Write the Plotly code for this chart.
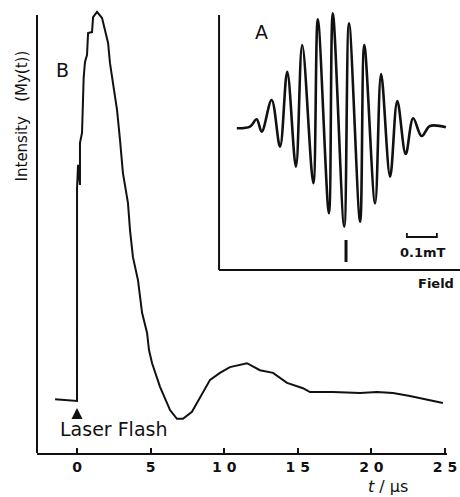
import plotly.graph_objects as go

# ---- Panel B: transient nutation signal (t in microseconds, arbitrary intensity)
t_us = [-1.49, 0.0, 0.0, 0.07, 0.20, 0.20, 0.20, 0.34, 0.41, 0.45, 0.54, 0.68, 0.75,
        1.02, 1.09, 1.36, 1.70, 1.90, 2.11, 2.24, 2.38, 2.72, 2.92, 3.12, 3.46, 3.60,
        3.80, 4.14, 4.42, 4.76, 4.89, 5.10, 5.64, 6.32, 6.79, 7.20, 7.81, 8.36, 9.04,
        9.71, 10.39, 11.55, 12.43, 13.32, 14.27, 15.35, 15.83, 17.39, 19.23, 20.38,
        21.47, 22.62, 23.98, 24.86]
intensity = [0.123, 0.119, 0.605, 0.658, 0.612, 0.669, 0.708, 0.731, 0.806, 0.856,
             0.893, 0.909, 0.959, 0.961, 0.995, 1.007, 0.993, 0.966, 0.936, 0.890,
             0.856, 0.783, 0.715, 0.639, 0.571, 0.509, 0.447, 0.395, 0.320, 0.274,
             0.235, 0.205, 0.151, 0.098, 0.078, 0.078, 0.094, 0.128, 0.167, 0.183,
             0.196, 0.205, 0.189, 0.183, 0.160, 0.148, 0.139, 0.139, 0.137, 0.139,
             0.137, 0.130, 0.121, 0.114]

tick_vals = [0, 5, 10, 15, 20, 25]
tick_text = ["0", "5", "1 0", "1 5", "2 0", "2 5"]

# ---- Panel A: ESR spectrum (field in mT relative to marker, signal arbitrary)
field_mT = [-0.364, -0.320, -0.298, -0.281, -0.248, -0.220, -0.196, -0.167, -0.146,
            -0.109, -0.094, -0.057, -0.044, -0.006, 0.010, 0.047, 0.061, 0.097,
            0.117, 0.147, 0.171, 0.199, 0.224, 0.252, 0.280, 0.333]
signal = [-0.013, 0.003, 0.077, -0.047, 0.27, -0.197, 0.553, -0.397, 0.82, -0.563,
          1.077, -0.863, 1.137, -0.997, 1.037, -0.947, 0.82, -0.763, 0.53, -0.497,
          0.26, -0.27, 0.087, -0.09, 0.01, -0.003]

INK = "#111111"
FONT = "DejaVu Sans"

fig = go.Figure()
fig.add_trace(go.Scatter(x=t_us, y=intensity, mode="lines",
                         line=dict(color=INK, width=2), xaxis="x", yaxis="y",
                         showlegend=False, hoverinfo="skip"))
fig.add_trace(go.Scatter(x=field_mT, y=signal, mode="lines",
                         line=dict(color=INK, width=2.6, shape="spline", smoothing=1.0),
                         xaxis="x2", yaxis="y2", showlegend=False, hoverinfo="skip"))

fig.update_layout(
    width=460, height=497,
    margin=dict(l=37, r=13, t=10, b=44, autoexpand=False),
    paper_bgcolor="white", plot_bgcolor="white",
    font=dict(family=FONT, color=INK),
    xaxis=dict(range=[-2.72, 25.14], showgrid=False, zeroline=False,
               showline=True, linecolor=INK, linewidth=2, automargin=False,
               ticks="inside", ticklen=5, tickwidth=1.5, tickcolor=INK,
               tickvals=tick_vals, ticktext=tick_text,
               tickfont=dict(size=14, family=FONT, color=INK, weight="bold")),
    yaxis=dict(range=[0, 1.0114], showgrid=False, zeroline=False, automargin=False,
               showline=False, showticklabels=False, ticks=""),
    xaxis2=dict(domain=[0.444, 1.0], anchor="y2", range=[-0.4233, 0.3367],
                showgrid=False, zeroline=False, showline=False,
                showticklabels=False, ticks=""),
    yaxis2=dict(domain=[0.4131, 1.0], anchor="x2", range=[-1.43, 1.17],
                showgrid=False, zeroline=False, showline=False,
                showticklabels=False, ticks=""),
)

shapes = [
    # main left axis
    dict(type="line", xref="paper", yref="y", x0=0, x1=0, y0=0, y1=1.0,
         line=dict(color=INK, width=2)),
    # inset axes
    dict(type="line", xref="x2 domain", yref="y2", x0=0, x1=0, y0=-1.43, y1=1.12,
         line=dict(color=INK, width=2)),
    dict(type="line", xref="x2 domain", yref="y2 domain", x0=0, x1=1.06, y0=0, y1=0,
         line=dict(color=INK, width=2)),
    # centre marker
    dict(type="line", xref="x2", yref="y2", x0=0, x1=0, y0=-1.13, y1=-1.35,
         line=dict(color=INK, width=3)),
    # 0.1 mT scale bracket
    dict(type="path", xref="x2", yref="y2",
         path="M 0.203,-1.06 L 0.203,-1.10 L 0.303,-1.10 L 0.303,-1.06",
         line=dict(color=INK, width=1.8)),
]
fig.update_layout(shapes=shapes)

ann = [
    dict(text="B", x=-1.02, y=0.874, xref="x", yref="y", showarrow=False,
         font=dict(size=19, family=FONT, color=INK)),
    dict(text="Laser Flash", x=2.45, y=0.055, xref="x", yref="y", showarrow=False,
         xanchor="center", yanchor="middle",
         font=dict(size=19, family=FONT, color=INK)),
    dict(text="", x=0, y=0.103, xref="x", yref="y", showarrow=True,
         ax=0, ay=11, arrowhead=2, arrowsize=1.0, arrowwidth=2.2, arrowcolor=INK),
    dict(text="Intensity&nbsp;&nbsp;&nbsp;(My(t))", x=-0.0366, y=0.762,
         xref="paper", yref="paper", showarrow=False, textangle=-90,
         xanchor="center", yanchor="middle",
         font=dict(size=15, family=FONT, color=INK)),
    dict(text="<i>t</i> / μs", x=0.856, y=-0.0745, xref="paper", yref="paper",
         showarrow=False, xanchor="center", yanchor="middle",
         font=dict(size=16, family=FONT, color=INK)),
    dict(text="A", x=-0.283, y=0.95, xref="x2", yref="y2", showarrow=False,
         font=dict(size=19, family=FONT, color=INK)),
    dict(text="<b>0.1mT</b>", x=0.257, y=-1.25, xref="x2", yref="y2", showarrow=False,
         xanchor="center", yanchor="middle",
         font=dict(size=13, family=FONT, color=INK)),
    dict(text="<b>Field</b>", x=0.972, y=0.383, xref="paper", yref="paper",
         showarrow=False, xanchor="center", yanchor="middle",
         font=dict(size=13, family=FONT, color=INK)),
]
fig.update_layout(annotations=ann)

fig.write_html("out.html", config={"displayModeBar": False},
               post_script="document.body.style.margin='0';document.body.style.overflow='hidden';")
